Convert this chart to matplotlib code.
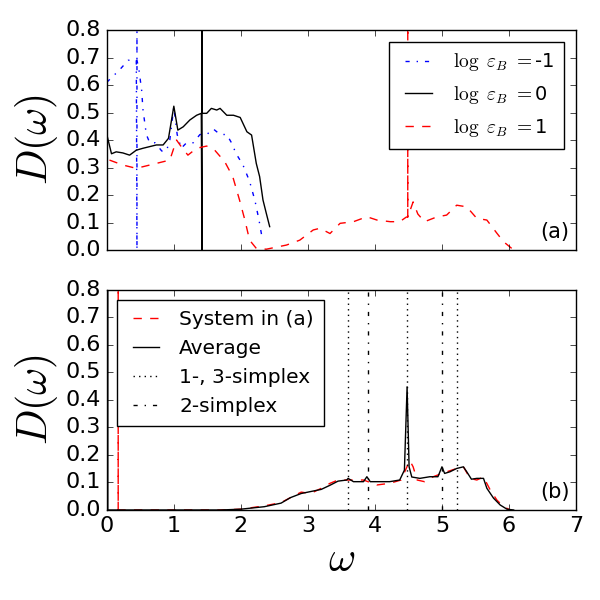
import numpy as np
import matplotlib
matplotlib.use("Agg")
from matplotlib import pyplot as plt

plt.style.use("classic")
plt.rcParams["mathtext.fontset"] = "cm"

# panel (a), log eps_B = -1
w_m1 = [0.0, 0.19, 0.32, 0.44, 0.45, 0.45, 0.45, 0.48, 0.52, 0.54, 0.59, 0.64, 0.72, 0.82, 0.89, 0.94, 1.0,
        1.05, 1.11, 1.19, 1.29, 1.39, 1.49, 1.59, 1.69, 1.79, 1.86, 1.93, 2.03, 2.13, 2.21, 2.27, 2.32]
d_m1 = [0.61, 0.655, 0.69, 0.69, 0.0, 0.85, 0.69, 0.655, 0.58, 0.51, 0.42, 0.39, 0.39, 0.36, 0.36, 0.40,
        0.52, 0.42, 0.37, 0.39, 0.39, 0.42, 0.42, 0.44, 0.42, 0.42, 0.39, 0.35, 0.31, 0.25, 0.18, 0.11, 0.04]

# panel (a), log eps_B = 0
w_0 = [0.0, 0.07, 0.14, 0.24, 0.34, 0.44, 0.54, 0.64, 0.74, 0.84, 0.92, 1.0, 1.06, 1.14, 1.24, 1.34,
       1.41, 1.42, 1.42, 1.42, 1.49, 1.56, 1.64, 1.69, 1.79, 1.89, 1.99, 2.09, 2.16, 2.23, 2.28, 2.33,
       2.38, 2.43]
d_0 = [0.42, 0.35, 0.357, 0.353, 0.345, 0.363, 0.37, 0.376, 0.382, 0.382, 0.406, 0.523, 0.436, 0.448,
       0.473, 0.49, 0.497, 0.0, 0.85, 0.497, 0.497, 0.515, 0.509, 0.515, 0.49, 0.49, 0.482, 0.43, 0.418,
       0.315, 0.267, 0.182, 0.133, 0.085]

# panel (a), log eps_B = 1
w_p1 = [0.04, 0.24, 0.44, 0.64, 0.84, 0.94, 1.04, 1.11, 1.21, 1.34, 1.49, 1.61, 1.76, 1.88, 1.98, 2.06,
        2.13, 2.23, 2.38, 2.68, 2.88, 3.08, 3.18, 3.33, 3.48, 3.68, 3.88, 4.03, 4.23, 4.37, 4.47, 4.49,
        4.49, 4.49, 4.57, 4.64, 4.74, 4.92, 5.07, 5.22, 5.37, 5.52, 5.67, 5.82, 5.92, 6.04]
d_p1 = [0.327, 0.309, 0.297, 0.309, 0.321, 0.327, 0.40, 0.376, 0.345, 0.37, 0.378, 0.363, 0.321, 0.266,
        0.182, 0.109, 0.036, 0.006, 0.003, 0.018, 0.036, 0.073, 0.079, 0.06, 0.097, 0.103, 0.121, 0.109,
        0.103, 0.103, 0.12, 0.12, 0.85, 0.12, 0.175, 0.131, 0.103, 0.12, 0.127, 0.163, 0.157, 0.115,
        0.109, 0.061, 0.03, 0.006]

# panel (b), system in (a)
w_sys = [0.17, 0.17, 0.17, 0.3, 1.0, 1.7, 2.0, 2.35, 2.6, 2.74, 2.9, 3.04, 3.2, 3.33, 3.45, 3.6, 3.83,
         4.03, 4.22, 4.39, 4.52, 4.57, 4.63, 4.74, 4.87, 5.0, 5.22, 5.32, 5.42, 5.52, 5.62, 5.72, 5.82,
         5.92, 6.02]
d_sys = [0.0, 0.85, 0.0, 0.0, 0.0, 0.0, 0.003, 0.015, 0.027, 0.045, 0.065, 0.06, 0.079, 0.097, 0.109,
         0.109, 0.109, 0.091, 0.097, 0.109, 0.18, 0.157, 0.109, 0.103, 0.121, 0.133, 0.151, 0.157, 0.115,
         0.109, 0.12, 0.073, 0.036, 0.012, 0.0]

# panel (b), average
w_avg = [0.015, 0.015, 0.03, 1.0, 1.7, 2.0, 2.35, 2.6, 2.74, 2.9, 3.04, 3.2, 3.33, 3.45, 3.58, 3.6, 3.68,
         3.83, 3.88, 3.93, 4.08, 4.22, 4.37, 4.44, 4.48, 4.51, 4.55, 4.67, 4.82, 4.94, 5.0, 5.04, 5.12,
         5.22, 5.32, 5.37, 5.44, 5.52, 5.62, 5.67, 5.77, 5.87, 5.97, 6.07]
d_avg = [0.85, 0.0, 0.0, 0.0, 0.0, 0.003, 0.012, 0.025, 0.045, 0.06, 0.067, 0.075, 0.09, 0.105, 0.109,
         0.115, 0.103, 0.103, 0.121, 0.103, 0.103, 0.103, 0.109, 0.145, 0.448, 0.157, 0.12, 0.115, 0.121,
         0.121, 0.157, 0.133, 0.139, 0.151, 0.157, 0.139, 0.112, 0.115, 0.115, 0.079, 0.043, 0.018, 0.003,
         0.0]

simplex13 = [3.60, 4.48, 5.22]
simplex2 = [3.89, 5.0]

fig = plt.figure(figsize=(6, 6), dpi=100, facecolor="white")
ax1 = fig.add_axes([0.178, 0.5833, 0.782, 0.3667])
ax2 = fig.add_axes([0.178, 0.15, 0.782, 0.3667])

ax1.plot(w_m1, d_m1, "b-.", lw=1, label=r"$\log\ \varepsilon_B\ =$-1")
ax1.plot(w_0, d_0, "k-", lw=1, label=r"$\log\ \varepsilon_B\ =$0")
ax1.plot(w_p1, d_p1, "r--", lw=1, label=r"$\log\ \varepsilon_B\ =$1")
ax1.legend(loc="upper right", fontsize=14, handlelength=2.0, handletextpad=0.8,
           borderpad=0.5, labelspacing=0.55, borderaxespad=0.6)
ax1.text(6.9, 0.03, "(a)", ha="right", va="bottom", fontsize=15)

ax2.plot(w_sys, d_sys, "r--", lw=1, label="System in (a)")
ax2.plot(w_avg, d_avg, "k-", lw=1, label="Average")
for i, x in enumerate(simplex13):
    ax2.axvline(x, color="k", ls=":", lw=1, label="1-, 3-simplex" if i == 0 else None)
for i, x in enumerate(simplex2):
    ax2.axvline(x, color="k", ls="-.", lw=1, label="2-simplex" if i == 0 else None)
ax2.legend(loc="upper left", fontsize=14.5, handlelength=1.9, handletextpad=0.7,
           borderpad=0.5, labelspacing=0.5)
ax2.text(6.9, 0.03, "(b)", ha="right", va="bottom", fontsize=15)

for ax in (ax1, ax2):
    ax.set_xlim(0, 7)
    ax.set_ylim(0, 0.8)
    ax.set_yticks(np.arange(0, 0.81, 0.1))
    ax.set_xticks(range(8))
    ax.tick_params(labelsize=16)
    ax.set_ylabel(r"$D(\omega)$", fontsize=30, labelpad=4)

ax1.set_xticklabels([])
ax2.set_xlabel(r"$\omega$", fontsize=30, labelpad=2)

fig.savefig("out.png", dpi=100, facecolor="white")
